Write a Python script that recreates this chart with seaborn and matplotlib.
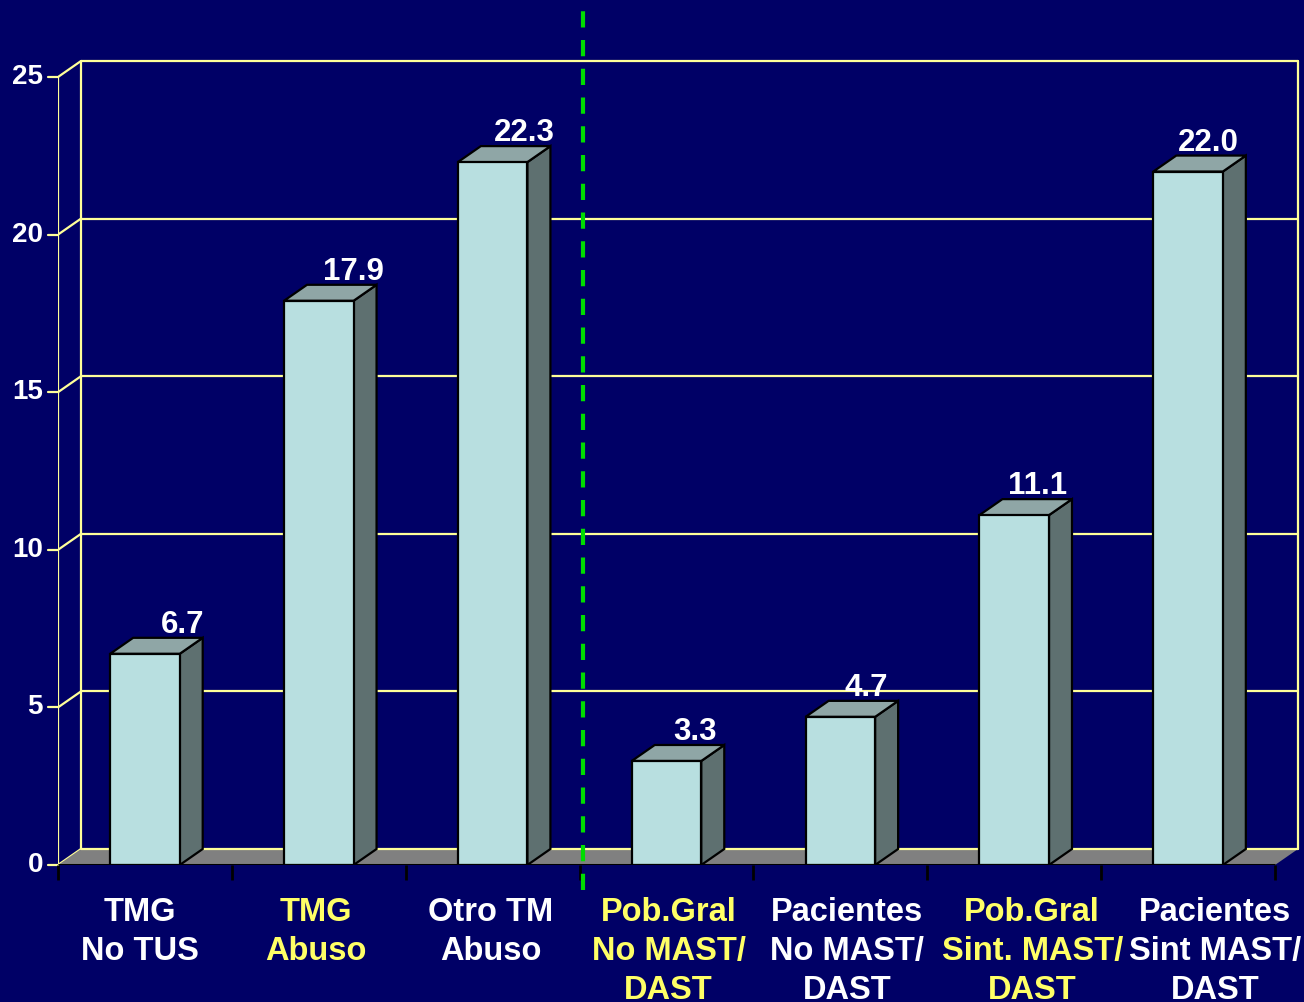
import numpy as np
import pandas as pd
import seaborn as sns
import matplotlib.pyplot as plt
from matplotlib.patches import Polygon

# Datos
categorias = ['TMG\nNo TUS', 'TMG\nAbuso', 'Otro TM\nAbuso', 'Pob.Gral\nNo MAST/\nDAST',
              'Pacientes\nNo MAST/\nDAST', 'Pob.Gral\nSint. MAST/\nDAST', 'Pacientes\nSint MAST/\nDAST']
valores = [6.7, 17.9, 22.3, 3.3, 4.7, 11.1, 22.0]
etiquetas_valor = ['6.7', '17.9', '22.3', '3.3', '4.7', '11.1', '22.0']
color_etiqueta = ['white', '#FFFF66', 'white', '#FFFF66', 'white', '#FFFF66', 'white']
yticks = [0, 5, 10, 15, 20, 25]

# Colores
fondo = '#000066'
frente = '#B8DFE0'
lado = '#5E7070'
tapa = '#8FA6A6'
rejilla = '#FFFF99'
piso = '#808080'

sns.set_theme(style='white')
plt.rcParams['font.family'] = ['Liberation Sans', 'DejaVu Sans']
plt.rcParams['font.weight'] = 'bold'

W, H = 1304, 1002
fig = plt.figure(figsize=(W / 100, H / 100), dpi=100, facecolor=fondo)

# ejes: frente x=-0.5 en px 58, x=6.5 en px 1275; y=0 en px 865, y=25 en px 77
px_x = (1275 - 58) / 7.0
px_y = (865 - 77) / 25.0
x_izq = -0.5
x_der = 6.5 + (W - 1275) / px_x
y_sup = 865 / px_y
ax = fig.add_axes([58 / W, (H - 865) / H, (W - 58) / W, 865 / H])
ax.set_facecolor(fondo)

# profundidad 3D
dx = 23 / px_x
dy = 16 / px_y

df = pd.DataFrame({'cat': categorias, 'val': valores})
sns.barplot(data=df, x='cat', y='val', width=0.4, color=frente, saturation=1,
            edgecolor='black', linewidth=1.6, ax=ax, zorder=4)

# pared del fondo y lateral
for v in yticks:
    ax.plot([-0.5 + dx, 6.5 + dx], [v + dy, v + dy], color=rejilla, lw=1.6, zorder=1.5 if v == 0 else 0.5)
    ax.plot([-0.5, -0.5 + dx], [v, v + dy], color=rejilla, lw=1.6, zorder=0.5)
    ax.plot([-0.5, -0.5 - 10 / px_x], [v, v], color=rejilla, lw=1.6, zorder=0.5, clip_on=False)
    ax.text(-0.5 - 15 / px_x, v, str(v), color='white', fontsize=20, fontweight='bold',
            ha='right', va='center', clip_on=False)
ax.plot([-0.5, -0.5], [0, 25], color=rejilla, lw=1.6, zorder=0.5)
ax.plot([-0.5 + dx, -0.5 + dx], [dy, 25 + dy], color=rejilla, lw=1.6, zorder=0.5)
ax.plot([6.5 + dx, 6.5 + dx], [dy, 25 + dy], color=rejilla, lw=1.6, zorder=0.5)

# piso
ax.add_patch(Polygon([[-0.5, 0], [6.5, 0], [6.5 + dx, dy], [-0.5 + dx, dy]],
                     closed=True, facecolor=piso, edgecolor='none', zorder=1))
ax.plot([-0.5, 6.5], [0, 0], color='black', lw=2.2, zorder=5, solid_capstyle='butt')

# caras laterales y tapas
for i, (p, v, txt) in enumerate(zip(ax.patches, valores, etiquetas_valor)):
    x0 = p.get_x()
    x1 = x0 + p.get_width()
    ax.add_patch(Polygon([[x1, 0], [x1 + dx, dy], [x1 + dx, v + dy], [x1, v]], closed=True,
                         facecolor=lado, edgecolor='black', lw=1.6, zorder=3.5))
    ax.add_patch(Polygon([[x0, v], [x0 + dx, v + dy], [x1 + dx, v + dy], [x1, v]], closed=True,
                         facecolor=tapa, edgecolor='black', lw=1.6, zorder=3.5))
    desplaz = (38 - 3 * i) / px_x
    ax.text((x0 + x1) / 2 + desplaz, v + dy + 5 / px_y, txt, color='white', fontsize=22.5,
            fontweight='bold', ha='center', va='baseline', zorder=6)

# línea verde discontinua
ax.plot([2.52, 2.52], [-25 / px_y, y_sup], color='#00DD00', lw=3,
        linestyle=(0, (3.9, 3.0)), zorder=7, clip_on=False)

ax.set_xlim(x_izq, x_der)
ax.set_ylim(0, y_sup)
ax.set_yticks([])
ax.set_xticks(range(7))
ax.set_xticklabels([])
# etiquetas de categoría (con el leve corrimiento horizontal del original, en px)
corrimiento = [-5, -3, -2, 2, 7, 18, 27]
for i, (lab, c, d) in enumerate(zip(categorias, color_etiqueta, corrimiento)):
    ax.text(i + d / px_x, -32 / px_y, lab, color=c, fontsize=23.5, fontweight='bold',
            ha='center', va='top', linespacing=1.33, multialignment='center', clip_on=False)
ax.set_xticks(np.arange(-0.5, 7, 1), minor=True)
ax.tick_params(axis='x', which='major', length=0)
ax.tick_params(axis='x', which='minor', length=11, width=2, color='black', direction='out', bottom=True)
ax.set_xlabel('')
ax.set_ylabel('')
for s in ax.spines.values():
    s.set_visible(False)

fig.savefig('out.png', dpi=100, facecolor=fondo)
